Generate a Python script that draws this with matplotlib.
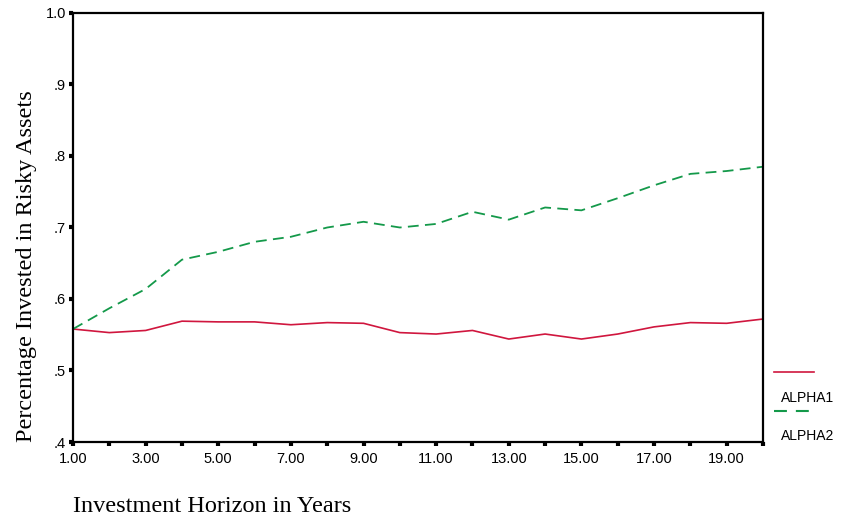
import numpy as np
import matplotlib
matplotlib.use("Agg")
import matplotlib.pyplot as plt
from matplotlib.lines import Line2D

# Data
years = np.arange(1, 21)
alpha1 = [0.558, 0.553, 0.556, 0.569, 0.568, 0.568, 0.564, 0.567, 0.566, 0.553,
          0.551, 0.556, 0.544, 0.551, 0.544, 0.551, 0.561, 0.567, 0.566, 0.572]
alpha2 = [0.558, 0.587, 0.614, 0.655, 0.666, 0.680, 0.687, 0.700, 0.708, 0.700,
          0.705, 0.722, 0.711, 0.728, 0.724, 0.741, 0.759, 0.775, 0.779, 0.785]
y_ticks = [0.4, 0.5, 0.6, 0.7, 0.8, 0.9, 1.0]
y_tick_labels = [".4", ".5", ".6", ".7", ".8", ".9", "1.0"]
x_tick_labels = ["%.2f" % v if v % 2 == 1 else "" for v in years]

red = "#d0163e"
green = "#14994a"
tick_font = "Liberation Sans"
label_font = "Liberation Serif"

fig = plt.figure(figsize=(8.65, 5.16), dpi=100)
ax = fig.add_axes([73 / 865, 74 / 516, 690 / 865, 429 / 516])

ax.plot(years, alpha1, color=red, lw=1.2)
ax.plot(years, alpha2, color=green, lw=1.3, dashes=(6, 3.5))

ax.set_xlim(1, 20)
ax.set_ylim(0.4, 1.0)
ax.set_xticks(years)
ax.set_xticklabels(x_tick_labels, fontfamily=tick_font, fontsize=10.5)
ax.set_yticks(y_ticks)
ax.set_yticklabels(y_tick_labels, fontfamily=tick_font, fontsize=10.5)
ax.tick_params(direction="out", length=3, width=3, color="black", pad=2)
ax.tick_params(axis="x", pad=4)

for s in ax.spines.values():
    s.set_linewidth(1.6)
    s.set_color("black")

# axis titles
fig.text(73 / 865, 1 - 507 / 516, "Investment Horizon in Years",
         fontfamily=label_font, fontsize=17.5, ha="left", va="center")
fig.text(27 / 865, 1 - 266 / 516, "Percentage Invested in Risky Assets",
         fontfamily=label_font, fontsize=17.5, rotation=90, ha="center", va="center")

# legend drawn beside the plot
fig.add_artist(Line2D([774 / 865, 814 / 865], [1 - 372 / 516] * 2,
                      color=red, lw=1.2))
fig.add_artist(Line2D([774 / 865, 810 / 865], [1 - 411 / 516] * 2,
                      color=green, lw=1.5, dashes=(6.2, 4.3)))
fig.text(808 / 865, 1 - 398 / 516, "ALPHA1", fontfamily=tick_font,
         fontsize=10, ha="center", va="center")
fig.text(808 / 865, 1 - 436 / 516, "ALPHA2", fontfamily=tick_font,
         fontsize=10, ha="center", va="center")

fig.savefig("out.png", dpi=100)
